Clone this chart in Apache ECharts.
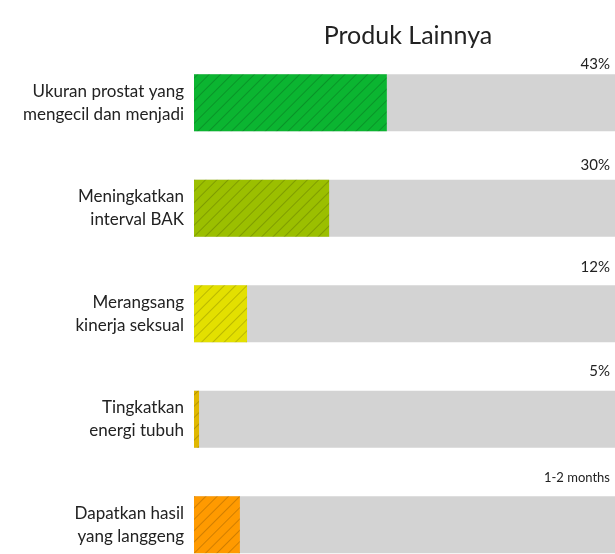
<!DOCTYPE html>
<html><head><meta charset="utf-8">
<script src="https://cdn.jsdelivr.net/npm/echarts@6/dist/echarts.min.js"></script>
<style>html,body{margin:0;padding:0;background:#fff;overflow:hidden}#c{width:615px;height:578px}</style>
</head><body><div id="c"></div>
<script>
const categories = ['Ukuran prostat yang\nmengecil dan menjadi', 'Meningkatkan\ninterval BAK', 'Merangsang\nkinerja seksual', 'Tingkatkan\nenergi tubuh', 'Dapatkan hasil\nyang langgeng'];
const values = [45.8, 32.1, 12.6, 1.2, 10.9];
const valueLabels = ['43%', '30%', '12%', '5%', '1-2 months'];
const colors = ['#0bb531', '#9bbf00', '#e3e000', '#e0b800', '#ff9a00'];
const maxValue = 100;

const labelLift = [0, 4, 8, 9, 9];
const chart = echarts.init(document.getElementById('c'));
const FONT = 'Lato';
chart.setOption({
  animation: false,
  title: {text: 'Produk Lainnya', left: 403, top: 18, textAlign: 'center',
    textStyle: {fontFamily: FONT, fontSize: 25, fontWeight: 'normal', color: '#222'}},
  grid: {left: 194, right: 0, top: 50, bottom: 0.5, containLabel: false},
  xAxis: {type: 'value', min: 0, max: maxValue, show: false},
  yAxis: {type: 'category', data: categories, inverse: true,
    axisLine: {show: false}, axisTick: {show: false},
    axisLabel: {fontFamily: FONT, fontSize: 17, color: '#222', lineHeight: 23, margin: 10, align: 'right'}},
  series: [
    {type: 'bar', barWidth: 57, barGap: '-100%', silent: true,
      itemStyle: {color: '#d3d3d3'},
      data: valueLabels.map((l, i) => ({value: maxValue, label: {formatter: l, fontSize: i === 4 ? 13 : 15, offset: [-5, -labelLift[i]]}})),
      label: {show: true, position: ['100%', -3], align: 'right', verticalAlign: 'bottom',
        fontFamily: FONT, color: '#222'}, z: 1},
    {type: 'bar', barWidth: 57, z: 2,
      data: values.map((v, i) => ({value: v, itemStyle: {color: colors[i],
        decal: {symbol: 'rect', symbolSize: 1, dashArrayX: [1, 0], dashArrayY: [1, 7], rotation: -Math.PI / 4, color: 'rgba(0,0,0,0.18)'}}}))}
  ]
});
</script></body></html>
